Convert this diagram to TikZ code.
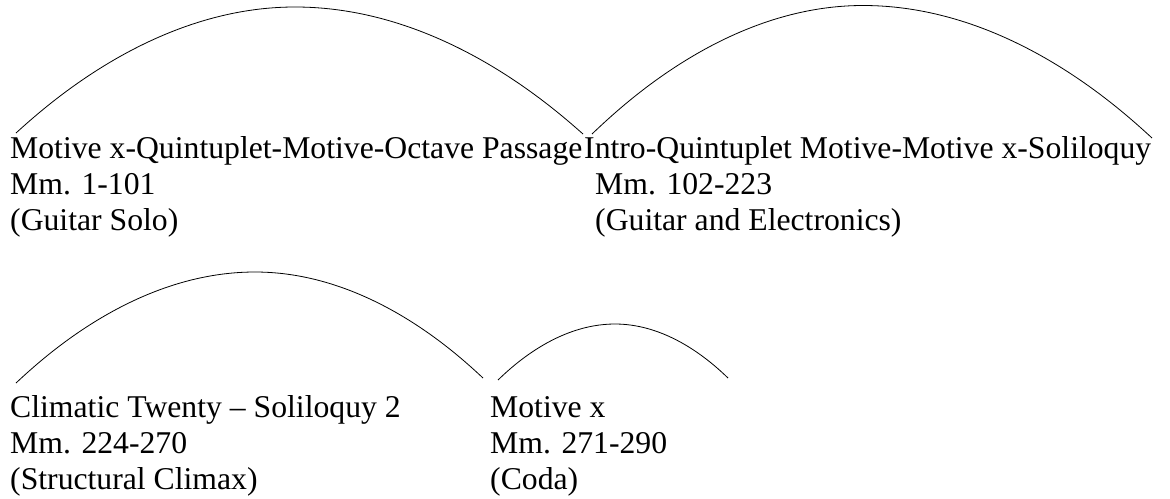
\documentclass[tikz,border=0pt]{standalone}
\usepackage{fontspec}
\setmainfont{Liberation Serif}
\begin{document}
\begin{tikzpicture}[x=1pt,y=-1pt,
  lbl/.style={anchor=base west, inner sep=0pt, font=\fontsize{31.7}{35}\selectfont},
  arcline/.style={line width=0.8pt, black}]
\useasboundingbox (0,0) rectangle (1170,498);
% block 1
\node[lbl] (b1l1) at (10,158) {Motive x-Quintuplet-Motive-Octave Passage};
\node[lbl] (b1l2) at (10,194) {Mm. 1-101};
\node[lbl] (b1l3) at (10,230) {(Guitar Solo)};
% block 2
\node[lbl] (b2l1) at (584,158) {Intro-Quintuplet Motive-Motive x-Soliloquy};
\node[lbl] (b2l2) at (595,194) {Mm. 102-223};
\node[lbl] (b2l3) at (595,230) {(Guitar and Electronics)};
% block 3
\node[lbl] (b3l1) at (10,417) {Climatic Twenty – Soliloquy 2};
\node[lbl] (b3l2) at (10,453) {Mm. 224-270};
\node[lbl] (b3l3) at (10,489) {(Structural Climax)};
% block 4
\node[lbl] (b4l1) at (490,417) {Motive x};
\node[lbl] (b4l2) at (490,453) {Mm. 271-290};
\node[lbl] (b4l3) at (490,489) {(Coda)};
% arcs
\coordinate (a1s) at (16,133);
\coordinate (a1p) at (295,7);
\coordinate (a1e) at (583,134);
\coordinate (a2s) at (592,134);
\coordinate (a2p) at (863,5.5);
\coordinate (a2e) at (1152,138);
\coordinate (a3s) at (16,383);
\coordinate (a3p) at (255,272);
\coordinate (a3e) at (483,378);
\coordinate (a4s) at (498,380);
\coordinate (a4p) at (615,324);
\coordinate (a4e) at (728,378);
\draw[arcline] (a1s) parabola bend (a1p) (a1e);
\draw[arcline] (a2s) parabola bend (a2p) (a2e);
\draw[arcline] (a3s) parabola bend (a3p) (a3e);
\draw[arcline] (a4s) parabola bend (a4p) (a4e);
\end{tikzpicture}
\end{document}
